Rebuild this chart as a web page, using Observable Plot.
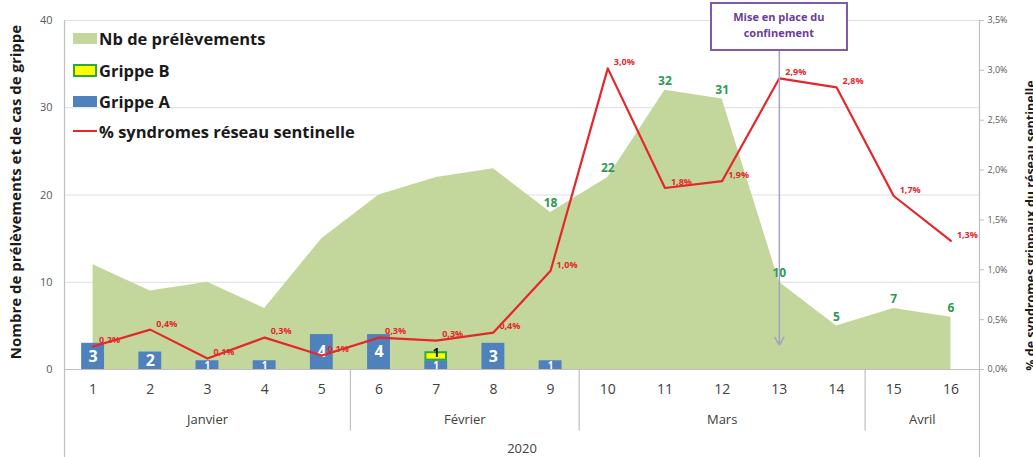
<!DOCTYPE html>
<html><head><meta charset="utf-8">
<script src="https://cdn.jsdelivr.net/npm/d3@7"></script>
<script src="https://cdn.jsdelivr.net/npm/@observablehq/plot@0.6"></script>
<style>
body{margin:0;background:#fff;font-family:"Open Sans",sans-serif;}
#wrap{position:relative;width:1033px;height:457px;overflow:hidden;}
#wrap svg{position:absolute;left:0;top:0;}
.legend{position:absolute;left:73px;top:22px;}
.legend .item{position:absolute;left:0;height:20px;display:flex;align-items:center;white-space:nowrap;font-weight:700;font-size:16.5px;color:#1a1a1a;}
.legend .sw{width:24px;height:11px;margin-right:2px;box-sizing:border-box;}
.ytitle{position:absolute;font-weight:700;white-space:nowrap;color:#1a1a1a;transform-origin:center center;}
.annot{position:absolute;box-sizing:border-box;border:2px solid #7f5aa8;background:#fff;color:#6a3d9a;font-weight:700;font-size:11px;text-align:center;line-height:16px;padding-top:5px;}
</style></head><body><div id="wrap"></div>
<script>
// ---- data ----
const weeks = [1,2,3,4,5,6,7,8,9,10,11,12,13,14,15,16];
const prelevements = [12,9,10,7,15,20,22,23,18,22,32,31,10,5,7,6];
const firstLabelledWeek = 9;
const grippeA = [3,2,1,1,4,4,1,3,1,0,0,0,0,0,0,0];
const grippeB = [0,0,0,0,0,0,1,0,0,0,0,0,0,0,0,0];
const syndromesPct = [0.23,0.40,0.11,0.32,0.14,0.32,0.29,0.37,0.99,3.02,1.82,1.89,2.92,2.83,1.74,1.29];
const months = ["Janvier","Février","Mars","Avril"];
const monthFirstWeek = [1,6,10,15];
const monthLastWeek = [5,9,14,16];
const yearLabel = "2020";
const leftTicks = [0,10,20,30,40];
const rightTicksPct = [0,0.5,1.0,1.5,2.0,2.5,3.0,3.5];
const confinementWeek = 13;
const confinementText = ["Mise en place du","confinement"];
const leftTitle = "Nombre de prélèvements et de cas de grippe";
const rightTitle = "% de syndromes grippaux du réseau sentinelle";
const legendItems = ["Nb de prélèvements","Grippe B","Grippe A","% syndromes réseau sentinelle"];

// ---- build ----
const C = {area:"#c3d69b", blue:"#4f81bd", yellow:"#ffff00", bBorder:"#2ea836", red:"#e5262b", green:"#2e9a50", grid:"#dedede", axis:"#bfbfbf", txt:"#404040"};
const yMax = 40, pctMax = 3.5, k = yMax / pctMax;
const rows = weeks.map((w,i)=>({week:w, prelev:prelevements[i], a:grippeA[i], b:grippeB[i], pct:syndromesPct[i]}));
const monthRows = months.map((m,i)=>({name:m, first:monthFirstWeek[i], last:monthLastWeek[i]}));
const bounds = monthFirstWeek.slice(1).map(w=>w-0.5);
const fmtPct = p => p.toFixed(1).replace(".",",") + "%";
const x0 = weeks[0]-0.5, x1 = weeks[weeks.length-1]+0.5;
const half = 0.2;

const W=1033, H=457, ml=64, mr=54, mt=20, mb=88;
const yBottom = -mb*yMax/(H-mt-mb);

const plot = Plot.plot({
  width:W, height:H, marginLeft:ml, marginRight:mr, marginTop:mt, marginBottom:mb,
  style:{fontFamily:'"Open Sans", sans-serif', background:"transparent", overflow:"visible"},
  x:{type:"linear", domain:[x0,x1], axis:null, label:null},
  y:{domain:[0,yMax], axis:null, label:null},
  marks:[
    Plot.gridY(leftTicks.filter(d=>d>0), {stroke:C.grid, strokeOpacity:1}),
    Plot.areaY(rows,{x:"week", y:"prelev", fill:C.area}),
    Plot.rect(rows.filter(d=>d.a>0),{x1:d=>d.week-half, x2:d=>d.week+half, y1:0, y2:"a", fill:C.blue}),
    Plot.rect(rows.filter(d=>d.b>0),{x1:d=>d.week-half+0.02, x2:d=>d.week+half-0.02, y1:d=>d.a+0.08, y2:d=>d.a+d.b-0.08, fill:C.yellow, stroke:C.bBorder, strokeWidth:2}),
    Plot.text(rows.filter(d=>d.a>1),{x:"week", y:d=>d.a/2, text:d=>String(d.a), fill:"#fff", fontSize:16, fontWeight:"bold"}),
    Plot.text(rows.filter(d=>d.a===1),{x:"week", y:0, dy:-1, text:d=>String(d.a), fill:"#fff", fontSize:10, fontWeight:"bold", lineAnchor:"bottom"}),
    Plot.text(rows.filter(d=>d.b>0),{x:"week", y:d=>d.a+d.b, dy:1, text:d=>String(d.b), fill:"#111", fontSize:12, fontWeight:"bold", lineAnchor:"middle"}),
    Plot.ruleY([0],{stroke:C.axis, strokeWidth:1.2}),
    Plot.line(rows,{x:"week", y:d=>d.pct*k, stroke:C.red, strokeWidth:2.2}),
    Plot.text(rows,{x:"week", y:d=>d.pct*k, text:d=>fmtPct(d.pct), fill:C.red, fontSize:9, fontWeight:"bold", textAnchor:"start", dx:6, dy:-6}),
    Plot.text(rows.filter(d=>d.week>=firstLabelledWeek),{x:"week", y:"prelev", text:d=>String(d.prelev), fill:C.green, fontSize:12, fontWeight:"bold", dy:-9}),
    Plot.arrow([confinementWeek],{x1:d=>d, x2:d=>d, y1:yMax*0.98, y2:yMax*0.07, stroke:"#a6a3bf", strokeWidth:1.5, headLength:9}),
    // axes
    Plot.ruleX([x0, x1],{y1:yMax, y2:yBottom, stroke:C.axis, strokeWidth:1.2, clip:false}),
    Plot.ruleX(bounds,{y1:0, y2:yBottom*0.7, stroke:C.axis, strokeWidth:1.2}),
    Plot.axisX({ticks:weeks, tickSize:0, tickPadding:15, fontSize:14, color:C.txt, label:null, tickFormat:d=>String(d)}),
    Plot.text(monthRows,{x:d=>(d.first+d.last)/2, y:0, dy:50, text:"name", fontSize:13, fill:C.txt}),
    Plot.text([yearLabel],{x:(x0+x1)/2, y:0, dy:79, text:d=>d, fontSize:13, fill:C.txt}),
    Plot.axisY({anchor:"left", ticks:leftTicks, tickSize:0, tickPadding:12, fontSize:11, color:"#595959", label:null}),
    Plot.axisY({anchor:"right", ticks:rightTicksPct.map(p=>p*k), tickSize:4, tickPadding:4, fontSize:9, color:"#595959", stroke:C.axis, label:null, tickFormat:v=>fmtPct(v/k)})
  ]
});
const wrap = document.getElementById("wrap");
wrap.appendChild(plot);

// legend
const leg = document.createElement("div"); leg.className="legend";
const swStyles = [
  `background:${C.area}`,
  `background:${C.yellow};border:2px solid ${C.bBorder};height:13px`,
  `background:${C.blue}`,
  `height:2px;background:${C.red}`
];
const legTops = [6, 38, 69, 99];
legendItems.forEach((t,i)=>{
  const it=document.createElement("div"); it.className="item"; it.style.top=legTops[i]+"px";
  const sw=document.createElement("span"); sw.className="sw"; sw.style.cssText=swStyles[i];
  const tx=document.createElement("span"); tx.textContent=t;
  it.appendChild(sw); it.appendChild(tx); leg.appendChild(it);
});
wrap.appendChild(leg);

// axis titles
function vtitle(text, cx, cy, size){
  const d=document.createElement("div"); d.className="ytitle"; d.textContent=text; d.style.fontSize=size+"px";
  wrap.appendChild(d);
  const w=d.offsetWidth, h=d.offsetHeight;
  d.style.left=(cx-w/2)+"px"; d.style.top=(cy-h/2)+"px"; d.style.transform="rotate(-90deg)";
}
vtitle(leftTitle, 15, 192, 15);
vtitle(rightTitle, 1030, 225, 12.5);

// annotation box
const sx = plot.scale("x");
const ax = sx.apply(confinementWeek);
const box=document.createElement("div"); box.className="annot";
box.style.left=(ax-69)+"px"; box.style.top="2px"; box.style.width="138px"; box.style.height="49px";
box.innerHTML=confinementText.join("<br>");
wrap.appendChild(box);
</script></body></html>
